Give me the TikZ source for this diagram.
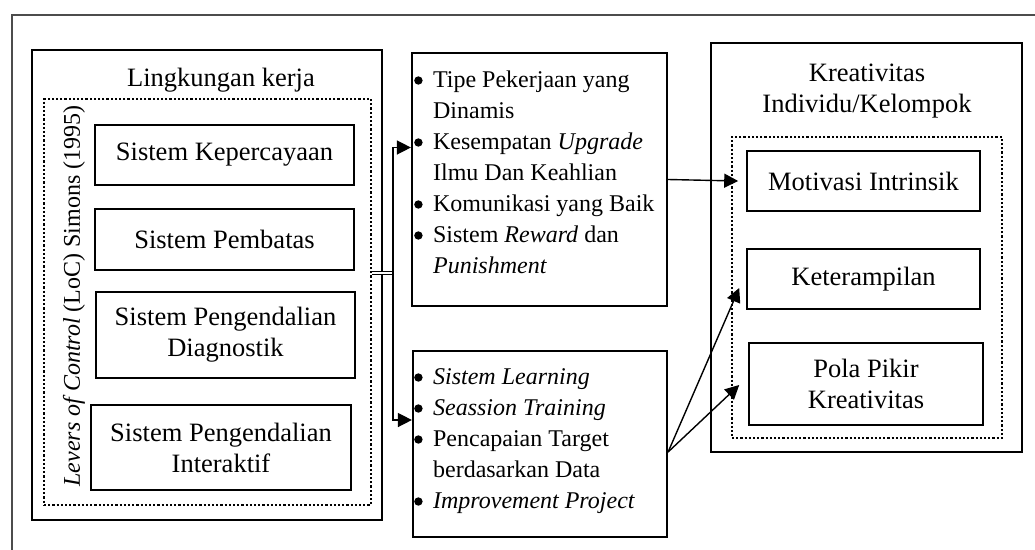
\documentclass[tikz,border=0pt]{standalone}
\usepackage{fontspec}
\setmainfont{Liberation Serif}
\usetikzlibrary{positioning,arrows.meta}
\newcommand{\itm}{\tikz[baseline=-6.5pt]\fill (0,0) circle (4.2pt);}

\begin{document}
\begin{tikzpicture}[x=1pt, y=-1pt,
  every node/.style={font=\fontsize{26.5}{31}\selectfont, align=center, inner sep=0pt},
  grp/.style={draw, line width=2.2pt},
  dots/.style={draw, line width=2.4pt, dash pattern=on 2.2pt off 2pt},
  box/.style={draw, line width=1.6pt},
  lst/.style={font=\fontsize{24}{31}\selectfont, align=left, anchor=base west},
  arr/.style={-{Triangle[length=14pt,width=14pt]}, line width=1.4pt},
  dbl/.style={double, double distance=2.2pt, line width=1.2pt}
]
\useasboundingbox (0,0) rectangle (1035,549);
\draw[line width=1.6pt, black!70] (12,560) |- (1040,15);

% lingkungan kerja
\node[grp, minimum width=350pt, minimum height=470pt] (kerjaBox) at (207,285) {};
\node (kerjaTitle) at (221,80) {Lingkungan kerja};
\node[dots, minimum width=327pt, minimum height=406pt] (locBox) at (207.5,302) {};
\node[rotate=90, font=\fontsize{24}{28}\selectfont] (locLabel) at (74,296) {\textit{Levers of Control} (LoC) Simons (1995)};
\node[box, minimum width=259pt, minimum height=60pt] (percaya) at (224.5,155) {Sistem Kepercayaan};
\node[box, minimum width=259pt, minimum height=61pt] (batas) at (224.5,239.5) {Sistem Pembatas};
\node[box, minimum width=259pt, minimum height=86pt] (diagnos) at (225.5,335) {Sistem Pengendalian\\Diagnostik};
\node[box, minimum width=260pt, minimum height=85pt] (interak) at (221,447.5) {Sistem Pengendalian\\Interaktif};

% faktor tengah
\node[grp, minimum width=255pt, minimum height=253pt] (faktor) at (539.5,179.5) {};
\node[lst] (faktorList) at (414,87) {\begin{tabular}[t]{@{}l@{\hspace{10.5pt}}l@{}}
\itm & Tipe Pekerjaan yang\\
 & Dinamis\\
\itm & Kesempatan \textit{Upgrade}\\
 & Ilmu Dan Keahlian\\
\itm & Komunikasi yang Baik\\
\itm & Sistem \textit{Reward} dan\\
 & \textit{Punishment}
\end{tabular}};
\node[grp, minimum width=254pt, minimum height=186pt] (learn) at (540,444) {};
\node[lst] (learnList) at (414,384) {\begin{tabular}[t]{@{}l@{\hspace{10.5pt}}l@{}}
\itm & \textit{Sistem Learning}\\
\itm & \textit{Seassion Training}\\
\itm & Pencapaian Target\\
 & berdasarkan Data\\
\itm & \textit{Improvement Project}
\end{tabular}};

% kreativitas
\node[grp, minimum width=311pt, minimum height=409pt] (kreatif) at (866.5,247.5) {};
\node (kreatifTitle) at (867,91) {Kreativitas\\Individu/Kelompok};
\node[dots, minimum width=270pt, minimum height=301pt] (kreatifIn) at (867,287.5) {};
\node[box, minimum width=233pt, minimum height=60pt] (motiv) at (863.5,181) {Motivasi Intrinsik};
\node[box, minimum width=233pt, minimum height=60pt] (skill) at (863.5,279) {Keterampilan};
\node[box, minimum width=234pt, minimum height=82pt] (pola) at (866,384) {Pola Pikir\\Kreativitas};

% connectors
\coordinate (split) at (393,273);
\draw[dbl] (locBox.east |- split) -- (split);
\draw[arr] (split) |- ([yshift=32pt]faktor.west);
\draw[arr] (split) |- ([yshift=24pt]learn.west);
\draw[arr] (faktor.east) -- ([xshift=-8pt]motiv.west);
\draw[arr] ([yshift=-8pt]learn.east) -- ([xshift=-7pt,yshift=-9pt]skill.west);
\draw[arr] ([yshift=-8pt]learn.east) -- ([xshift=-9pt,yshift=-1pt]pola.west);
\end{tikzpicture}
\end{document}
